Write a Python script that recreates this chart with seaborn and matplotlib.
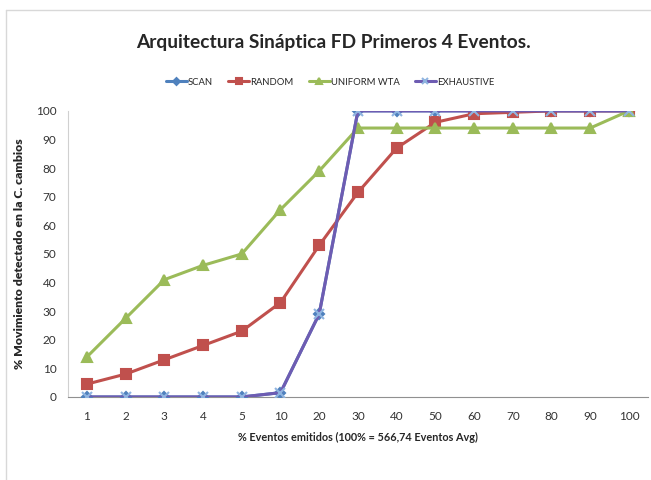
"""
Grafico de lineas: deteccion de movimiento vs eventos emitidos.
"""

import numpy as np
import matplotlib
matplotlib.use("Agg")
import matplotlib.pyplot as plt
import seaborn as sns

categorias = ["1", "2", "3", "4", "5", "10", "20", "30", "40", "50",
              "60", "70", "80", "90", "100"]
scan = [0, 0, 0, 0, 0, 1.5, 29, 100, 100, 100, 100, 100, 100, 100, 100]
random_ = [4.5, 8, 13, 18, 23, 33, 53, 71.5, 87, 96, 99, 99.5, 100, 100, 100]
uniform_wta = [14, 27.5, 41, 46, 50, 65.5, 79, 94, 94, 94, 94, 94, 94, 94, 100]
exhaustive = [0, 0, 0, 0, 0, 1.5, 29, 100, 100, 100, 100, 100, 100, 100, 100]
y_ticks = list(range(0, 101, 10))

sns.set_style("white")
plt.rcParams['font.family'] = ['Lato', 'DejaVu Sans']

fig = plt.figure(figsize=(6.51, 4.8), dpi=100)
ax = fig.add_axes([0.1038, 0.173, 0.892, 0.596])

pos = np.arange(len(categorias))
series = [
    ("SCAN", scan, "#4F81BD", "D", "#4F81BD", 5),
    ("RANDOM", random_, "#C0504D", "s", "#C0504D", 7),
    ("UNIFORM WTA", uniform_wta, "#9BBB59", "^", "#9BBB59", 7),
    ("EXHAUSTIVE", exhaustive, "#6E5CB2", "x", "#8FB4E0", 7),
]
for i, (nombre, vals, col, mk, mcol, ms) in enumerate(series):
    sns.lineplot(x=pos, y=vals, ax=ax, color=col, linewidth=2.2, marker=mk,
                 markersize=ms, markerfacecolor=mcol, markeredgecolor=mcol,
                 markeredgewidth=1.5, label=nombre, zorder=3 + i)

ax.set_xlim(-0.5, len(categorias) - 0.5)
ax.set_ylim(0, 100)
ax.set_xticks(pos)
ax.set_xticklabels(categorias)
ax.set_yticks(y_ticks)
ax.tick_params(axis="both", length=0, labelsize=8.5, colors="#333333")
ax.tick_params(axis="x", pad=10)
ax.tick_params(axis="y", pad=8)
for lado in ["top", "right"]:
    ax.spines[lado].set_visible(False)
ax.spines["left"].set_color("#D0D0D0")
ax.spines["bottom"].set_color("#909090")

ax.set_xlabel("% Eventos emitidos (100% = 566,74 Eventos Avg)",
              fontsize=7.8, fontweight="bold", labelpad=7)
ax.set_ylabel("% Movimiento detectado en la C. cambios",
              fontsize=8.8, fontweight="heavy", labelpad=8)

fig.text(0.512, 0.912, "Arquitectura Sináptica FD Primeros 4 Eventos.",
         ha="center", va="center", fontsize=13.8, fontweight="bold")
leg = ax.legend(loc="center", bbox_to_anchor=(0.452, 1.10), ncol=4,
                frameon=False, fontsize=6.8, handlelength=2.2,
                columnspacing=1.6, handletextpad=0.15, markerscale=0.7)

# marco gris claro (solo arriba e izquierda, como en el original)
fig.add_artist(plt.Line2D([0.009, 1.0], [0.979, 0.979], color="#D8D8D8",
                          linewidth=1, transform=fig.transFigure))
fig.add_artist(plt.Line2D([0.009, 0.009], [0.0, 0.979], color="#D8D8D8",
                          linewidth=1, transform=fig.transFigure))

fig.savefig("out.png", dpi=100)
plt.close(fig)
